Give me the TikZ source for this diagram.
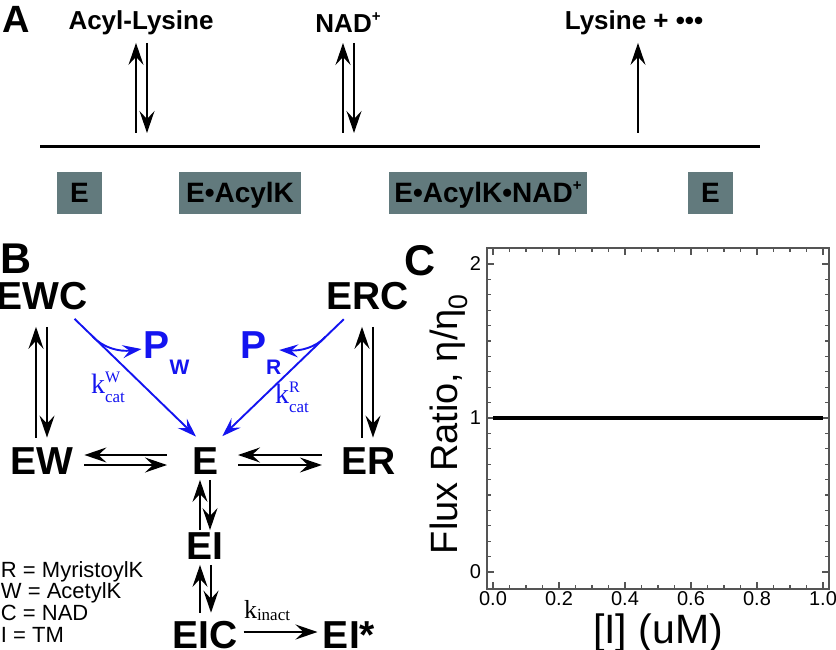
\documentclass[tikz,border=0pt]{standalone}
\usepackage{fontspec}
\setmainfont{Liberation Sans}
\newfontfamily\kserif{Liberation Serif}
\usetikzlibrary{arrows.meta,calc}
\definecolor{boxc}{HTML}{627A7D}
\definecolor{kblue}{RGB}{20,20,240}
\definecolor{framec}{HTML}{555555}
\newcommand\supplus[1]{\raisebox{0.45em}{\fontsize{#1}{#1}\selectfont +}}
\begin{document}
\begin{tikzpicture}[x=1pt,y=-1pt,
  every node/.style={inner sep=0pt,outer sep=0pt},
  lblA/.style={font=\bfseries\fontsize{26}{30}\selectfont,anchor=base},
  boxA/.style={fill=boxc,minimum height=42pt,text height=20pt,text depth=0pt,font=\bfseries\fontsize{28}{30}\selectfont},
  state/.style={font=\bfseries\fontsize{39}{40}\selectfont},
  panel/.style={font=\bfseries\fontsize{43}{43}\selectfont,anchor=base},
  karr/.style={line width=1.9pt,-{Stealth[length=22pt,width=15pt,inset=8pt]}},
  barr/.style={line width=1.9pt,color=kblue,-{Stealth[length=19pt,width=13pt,inset=7pt]}},
  kbl/.style={anchor=base west,text=kblue,font=\kserif\fontsize{28}{28}\selectfont},
  pbl/.style={anchor=base west,text=kblue,font=\bfseries\fontsize{39}{39}\selectfont},
  leg/.style={anchor=base west,font=\fontsize{22}{22}\selectfont},
  tick/.style={draw=framec,line width=1.2pt},
  ticklab/.style={font=\fontsize{20}{20}\selectfont}]
\useasboundingbox (0,0) rectangle (836,650);

% ---------- Panel A ----------
\node[anchor=base,font=\bfseries\fontsize{38}{38}\selectfont] (pA) at (16.5,33) {A};
\node[lblA] (acyl) at (141,30) {Acyl-Lysine};
\node[lblA] (nad) at (348,33) {NAD\supplus{15}};
\node[lblA] (lys) at (634,30) {Lysine + •••};
\coordinate (la) at (40,147);
\coordinate (lb) at (760,147);
\draw[line width=3pt] (la) -- (lb);
\coordinate (u1) at (136,133);
\coordinate (d1) at (147,133);
\coordinate (u2) at (343,133);
\coordinate (d2) at (354,133);
\coordinate (u3) at (638,133);
\draw[karr,shorten >=7.5pt] (u1) -- (u1 |- acyl.south);
\draw[karr,shorten <=7.5pt] (d1 |- acyl.south) -- (d1);
\draw[karr,shorten >=10pt] (u2) -- (u2 |- nad.south);
\draw[karr,shorten <=10pt] (d2 |- nad.south) -- (d2);
\draw[karr,shorten >=7.5pt] (u3) -- (u3 |- lys.south);
\node[boxA,minimum width=45pt] (b1) at (79.5,193) {E};
\node[boxA,minimum width=122pt] (b2) at (240,193) {E•AcylK};
\node[boxA,minimum width=198pt] (b3) at (488,193) {E•AcylK•NAD\supplus{15}};
\node[boxA,minimum width=45pt] (b4) at (710.5,193) {E};

% ---------- Panel B ----------
\node[panel] (pB) at (16,273) {B};
\node[state] (EWC) at (42,296) {EWC};
\node[state] (ERC) at (367.5,296) {ERC};
\node[state] (EW) at (42,461) {EW};
\node[state] (E) at (206,461) {E};
\node[state] (ER) at (369,461) {ER};
\node[state] (EI) at (205,546) {EI};
\node[state] (EIC) at (205,635) {EIC};
\node[state] (EIs) at (349,635) {EI*};

\draw[karr,shorten <=10pt,shorten >=17pt] ([xshift=-6pt]EW.north) -- ([xshift=-6pt]EWC.south);
\draw[karr,shorten <=17pt,shorten >=10pt] ([xshift=5pt]EWC.south) -- ([xshift=5pt]EW.north);
\draw[karr,shorten <=10pt,shorten >=17pt] ([xshift=-7pt]ER.north) -- ([xshift=-7pt]ER.north |- ERC.south);
\draw[karr,shorten <=17pt,shorten >=10pt] ([xshift=4pt]ER.north |- ERC.south) -- ([xshift=4pt]ER.north);

\draw[karr,shorten <=26pt,shorten >=11pt] ([yshift=6pt]E.west) -- ([yshift=6pt]EW.east);
\draw[karr,shorten <=11pt,shorten >=26pt] ([yshift=-4pt]EW.east) -- ([yshift=-4pt]E.west);
\draw[karr,shorten <=20pt,shorten >=19pt] ([yshift=6pt]ER.west) -- ([yshift=6pt]E.east);
\draw[karr,shorten <=19pt,shorten >=20pt] ([yshift=-4pt]E.east) -- ([yshift=-4pt]ER.west);

\draw[karr,shorten <=2.5pt,shorten >=5.5pt] ([xshift=-5pt]EI.north) -- ([xshift=-5pt]EI.north |- E.south);
\draw[karr,shorten <=5.5pt,shorten >=2.5pt] ([xshift=5pt]EI.north |- E.south) -- ([xshift=5pt]EI.north);
\draw[karr,shorten <=8.5pt,shorten >=5.5pt] ([xshift=-5pt]EIC.north) -- ([xshift=-5pt]EI.south);
\draw[karr,shorten <=5.5pt,shorten >=8.5pt] ([xshift=6pt]EI.south) -- ([xshift=6pt]EIC.north);
\draw[karr,shorten <=6pt,shorten >=5.5pt] ([yshift=3pt]EIC.east) -- ([yshift=3pt]EIs.west);
\node[anchor=base west,font=\kserif\fontsize{26}{26}\selectfont] (kin) at (244,618)
  {k\raisebox{-2pt}{\fontsize{17}{17}\selectfont inact}};

% blue catalytic steps
\node[pbl] (PW) at (143.5,358) {P\raisebox{-16pt}{\fontsize{21}{21}\selectfont W}};
\node[pbl] (PR) at (240,358) {P\raisebox{-16pt}{\fontsize{21}{21}\selectfont R}};
\coordinate (wS) at ([shift={(-13pt,-9pt)}]EWC.south east);
\coordinate (wE) at ([shift={(3pt,11pt)}]E.north west);
\coordinate (rS) at ([shift={(17.5pt,-9.4pt)}]ERC.south west);
\coordinate (rE) at ([shift={(3.3pt,11.4pt)}]E.north east);
\draw[barr] (wS) -- (wE);
\draw[barr] (rS) -- (rE);
\draw[barr] ($(wS)!0.15!(wE)$) .. controls (103,348) and (120,352) .. ([shift={(-2pt,9pt)}]PW.base west);
\draw[barr] ($(rS)!0.15!(rE)$) .. controls (315,348) and (300,351) .. ([shift={(-2pt,8pt)}]PR.base east);
\node[kbl] (kW) at (91,393) {k\rlap{\raisebox{11pt}{\fontsize{16}{16}\selectfont W}}\raisebox{-9pt}{\fontsize{17}{17}\selectfont cat}};
\node[kbl] (kR) at (275,403) {k\rlap{\raisebox{11pt}{\fontsize{16}{16}\selectfont R}}\raisebox{-9pt}{\fontsize{17}{17}\selectfont cat}};

\node[leg] (l1) at (1,577) {R = MyristoylK};
\node[leg] (l2) at (1,598.5) {W = AcetylK};
\node[leg] (l3) at (1,620) {C = NAD};
\node[leg] (l4) at (1,642) {I = TM};

% ---------- Panel C ----------
\node[panel] (pC) at (420,275) {C};
\begin{scope}[shift={(493,572)},x=330pt,y=154pt]
  \draw[framec,line width=1.3pt] (-0.018,-0.11) rectangle (1.018,2.104);
  \foreach \i in {0,...,20}{
    \pgfmathsetmacro\tl{ifthenelse(mod(\i,4)==0,7,4)}
    \draw[tick] (\i/20,-0.11) -- ++(0,\tl pt);
    \draw[tick] (\i/20,2.104) -- ++(0,-\tl pt);
  }
  \foreach \j in {0,...,20}{
    \pgfmathsetmacro\tl{ifthenelse(mod(\j,10)==0,7,4)}
    \draw[tick] (-0.018,\j/10) -- ++(\tl pt,0);
    \draw[tick] (1.018,\j/10) -- ++(-\tl pt,0);
  }
  \foreach \k/\t in {0/0.0,1/0.2,2/0.4,3/0.6,4/0.8,5/1.0}{
    \node[ticklab,anchor=base] (xl\k) at ([yshift=-17pt]\k/5,-0.11) {\t};
  }
  \foreach \k in {0,1,2}{
    \node[ticklab,anchor=east] (yl\k) at ([xshift=-6pt]-0.018,\k) {\k};
  }
  \draw[line width=4pt] (0,1) -- (1,1);
\end{scope}
\node[anchor=base,font=\fontsize{41}{41}\selectfont] (xlab) at (658,643) {[I] (uM)};
\node[anchor=base,rotate=90,font=\fontsize{38}{38}\selectfont] (ylab) at (457,424) {Flux Ratio, η/η\textsubscript{0}};
\end{tikzpicture}
\end{document}
